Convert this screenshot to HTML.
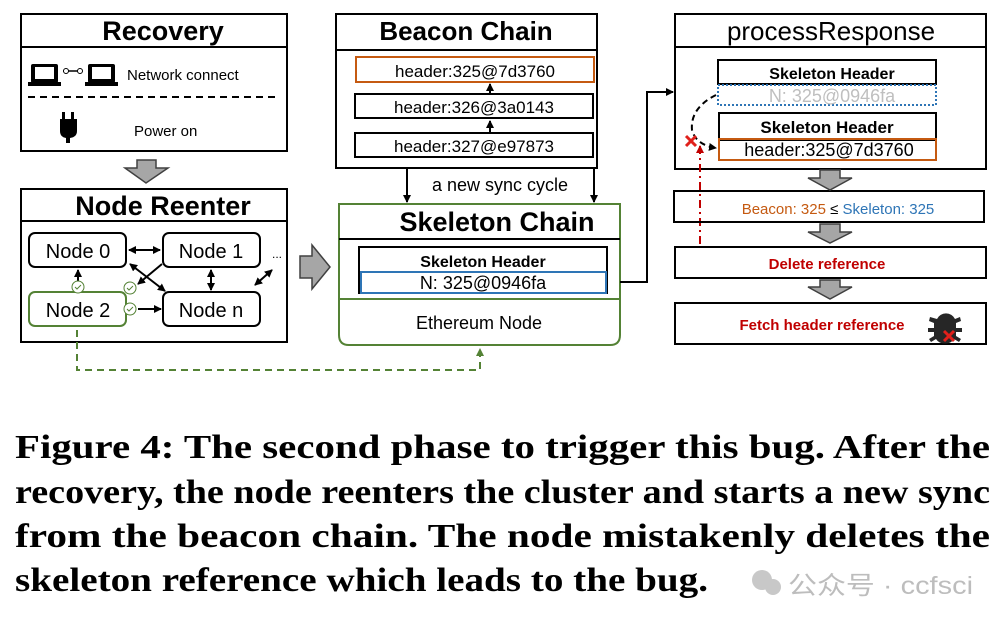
<!DOCTYPE html>
<html><head><meta charset="utf-8"><style>
html,body{margin:0;padding:0;background:#fff;width:1004px;height:625px;overflow:hidden}
svg{display:block}
.s{font-family:"Liberation Sans",sans-serif}
</style></head><body>
<svg width="1004" height="625" viewBox="0 0 1004 625" xmlns="http://www.w3.org/2000/svg">
<defs>
<marker id="ah" markerWidth="8" markerHeight="8" refX="7" refY="4" orient="auto" markerUnits="userSpaceOnUse"><path d="M0,0 L8,4 L0,8 z" fill="#000"/></marker>
<marker id="ahs" markerWidth="8" markerHeight="8" refX="1" refY="4" orient="auto" markerUnits="userSpaceOnUse"><path d="M8,0 L0,4 L8,8 z" fill="#000"/></marker>
<marker id="ag" markerWidth="8" markerHeight="8" refX="7" refY="4" orient="auto" markerUnits="userSpaceOnUse"><path d="M0,0 L8,4 L0,8 z" fill="#548235"/></marker>
<marker id="ar" markerWidth="8" markerHeight="8" refX="7" refY="4" orient="auto" markerUnits="userSpaceOnUse"><path d="M0,0 L8,4 L0,8 z" fill="#c00000"/></marker>
</defs>
<g class="s" fill="none" stroke="#000" stroke-width="2">
<rect x="21" y="14" width="266" height="137"/>
<line x1="21" y1="47" x2="287" y2="47"/>
<line x1="28" y1="97" x2="278" y2="97" stroke-dasharray="7,5"/>
<rect x="21" y="189" width="266" height="153"/>
<line x1="21" y1="221" x2="287" y2="221"/>
<rect x="29" y="233" width="97" height="34" rx="6"/>
<rect x="163" y="233" width="97" height="34" rx="6"/>
<rect x="29" y="292" width="97" height="34" rx="6" stroke="#548235"/>
<rect x="163" y="292" width="97" height="34" rx="6"/>
<line x1="129" y1="250" x2="160" y2="250" marker-end="url(#ah)" marker-start="url(#ahs)"/>
<line x1="130" y1="264" x2="165" y2="291" marker-end="url(#ah)" marker-start="url(#ahs)"/>
<line x1="162" y1="264" x2="138" y2="284" marker-end="url(#ah)"/>
<line x1="211" y1="270" x2="211" y2="290" marker-end="url(#ah)" marker-start="url(#ahs)"/>
<line x1="255" y1="285" x2="272" y2="270" marker-end="url(#ah)" marker-start="url(#ahs)"/>
<line x1="78" y1="283" x2="78" y2="270" marker-end="url(#ah)"/>
<line x1="138" y1="309" x2="161" y2="309" marker-end="url(#ah)"/>
<rect x="336" y="14" width="261" height="154"/>
<line x1="336" y1="50" x2="597" y2="50"/>
<rect x="356" y="57" width="238" height="25" stroke="#c55a11"/>
<rect x="355" y="94" width="238" height="24"/>
<rect x="355" y="133" width="238" height="24"/>
<line x1="490" y1="93" x2="490" y2="84" marker-end="url(#ah)"/>
<line x1="490" y1="132" x2="490" y2="121" marker-end="url(#ah)"/>
<line x1="407" y1="169" x2="407" y2="202" marker-end="url(#ah)"/>
<line x1="594" y1="169" x2="594" y2="202" marker-end="url(#ah)"/>
<path d="M339,204 H620 V335 Q620,345 610,345 H349 Q339,345 339,335 Z" stroke="#548235"/>
<line x1="339" y1="239" x2="620" y2="239" stroke="#000"/>
<line x1="339" y1="299" x2="620" y2="299" stroke="#548235"/>
<rect x="359" y="247" width="248" height="46"/>
<rect x="361" y="272" width="245" height="21" stroke="#2e75b6"/>
<polyline points="620,282 647,282 647,92 673,92" marker-end="url(#ah)"/>
<rect x="675" y="14" width="311" height="155"/>
<line x1="675" y1="47" x2="986" y2="47"/>
<rect x="718" y="60" width="218" height="24"/>
<rect x="718" y="85" width="218" height="20" stroke="#2e75b6" stroke-dasharray="2,2"/>
<rect x="719" y="113" width="217" height="27"/>
<rect x="719" y="139" width="217" height="21" stroke="#c55a11"/>
<path d="M716,95 Q690,108 692,130 Q696,145 716,148" stroke-dasharray="6,4" marker-end="url(#ah)"/>
<line x1="700" y1="244" x2="700" y2="146" stroke="#c00000" stroke-dasharray="8,4,2,4" marker-end="url(#ar)"/>
<rect x="674" y="191" width="310" height="31"/>
<rect x="675" y="247" width="311" height="31"/>
<rect x="675" y="303" width="311" height="41"/>
<polyline points="77,330 77,370 480,370 480,349" stroke="#548235" stroke-dasharray="7,5" marker-end="url(#ag)"/>
</g>
<g fill="#a6a6a6" stroke="#404040" stroke-width="1.5">
<path d="M137,160 H156 V168 H168 L146,183 L125,168 H137 Z"/>
<path d="M300,256 H312 V245 L330,267 L312,289 V278 H300 Z"/>
<path d="M820,170 H840 V178 H852 L830,190 L808,178 H820 Z"/>
<path d="M820,224 H840 V232 H852 L830,243 L808,232 H820 Z"/>
<path d="M820,280 H840 V287 H852 L830,299 L808,287 H820 Z"/>
</g>
<g fill="#000">
<rect x="31" y="64" width="27" height="19" rx="2"/><rect x="35" y="67" width="19" height="12" fill="#fff"/><rect x="28" y="82" width="33" height="4"/>
<rect x="88" y="64" width="27" height="19" rx="2"/><rect x="92" y="67" width="19" height="12" fill="#fff"/><rect x="85" y="82" width="33" height="4"/>
<line x1="63" y1="71" x2="82" y2="71" stroke="#000" stroke-width="1.5"/>
<circle cx="66" cy="71" r="2.5" fill="#fff" stroke="#000"/><circle cx="80" cy="71" r="2.5" fill="#fff" stroke="#000"/>
<rect x="62" y="112" width="3" height="8"/><rect x="71" y="112" width="3" height="8"/>
<path d="M60,119 H77 V131 Q77,137 70,138 V143 H66 V138 Q60,137 60,131 Z"/>
<path d="M937,319 a10,10 0 0 1 18,0 l5,-2 l1,4 l-5,2 v5 h6 v4 h-6 v4 l5,3 l-2,3 l-5,-3 a10,8 0 0 1 -18,0 l-5,3 l-2,-3 l5,-3 v-4 h-6 v-4 h6 v-5 l-5,-2 l1,-4 z" fill="#262626"/>
</g>
<g stroke="#e0201b" stroke-width="3"><line x1="944" y1="331" x2="954" y2="341"/><line x1="954" y1="331" x2="944" y2="341"/>
<line x1="686" y1="136" x2="696" y2="146"/><line x1="696" y1="136" x2="686" y2="146"/></g>
<g fill="#fff" stroke="#548235" stroke-width="1">
<circle cx="78" cy="287" r="6"/><circle cx="130" cy="288" r="6"/><circle cx="130" cy="309" r="6"/>
</g>
<g fill="none" stroke="#548235" stroke-width="1"><path d="M75,287 l2,2 l4,-4"/><path d="M127,288 l2,2 l4,-4"/><path d="M127,309 l2,2 l4,-4"/></g>
<g class="s" text-anchor="middle" fill="#000">
<text x="163" y="40" font-size="27" font-weight="bold">Recovery</text>
<text x="127" y="80" font-size="15" text-anchor="start">Network connect</text>
<text x="134" y="136" font-size="15" text-anchor="start">Power on</text>
<text x="163" y="215" font-size="27" font-weight="bold">Node Reenter</text>
<text x="78" y="258" font-size="20">Node 0</text>
<text x="211" y="258" font-size="20">Node 1</text>
<text x="78" y="317" font-size="20">Node 2</text>
<text x="211" y="317" font-size="20">Node n</text>
<text x="277" y="258" font-size="12">...</text>
<text x="466" y="40" font-size="26" font-weight="bold">Beacon Chain</text>
<text x="475" y="77" font-size="17">header:325@7d3760</text>
<text x="474" y="113" font-size="17">header:326@3a0143</text>
<text x="474" y="152" font-size="17">header:327@e97873</text>
<text x="500" y="191" font-size="18">a new sync cycle</text>
<text x="497" y="231" font-size="27" font-weight="bold">Skeleton Chain</text>
<text x="483" y="267" font-size="16" font-weight="bold">Skeleton Header</text>
<text x="483" y="289" font-size="18">N: 325@0946fa</text>
<text x="479" y="329" font-size="18">Ethereum Node</text>
<text x="831" y="40" font-size="26">processResponse</text>
<text x="832" y="79" font-size="16" font-weight="bold">Skeleton Header</text>
<text x="832" y="102" font-size="18" fill="#bfbfbf">N: 325@0946fa</text>
<text x="827" y="133" font-size="17" font-weight="bold">Skeleton Header</text>
<text x="829" y="156" font-size="18">header:325@7d3760</text>
<text x="838" y="214" font-size="15"><tspan fill="#c55a11">Beacon: 325</tspan> ≤ <tspan fill="#2e75b6">Skeleton: 325</tspan></text>
<text x="827" y="269" font-size="15" font-weight="bold" fill="#c00000">Delete reference</text>
<text x="822" y="330" font-size="15" font-weight="bold" fill="#c00000">Fetch header reference</text>
</g>
<g font-family="Liberation Serif,serif" font-weight="bold" font-size="34" fill="#000">
<text x="15" y="458" textLength="975" lengthAdjust="spacingAndGlyphs">Figure 4:  The second phase to trigger this bug. After the</text>
<text x="15" y="503" textLength="975" lengthAdjust="spacingAndGlyphs">recovery, the node reenters the cluster and starts a new sync</text>
<text x="15" y="547" textLength="975" lengthAdjust="spacingAndGlyphs">from the beacon chain. The node mistakenly deletes the</text>
<text x="15" y="591" textLength="693" lengthAdjust="spacingAndGlyphs">skeleton reference which leads to the bug.</text>
</g>
<circle cx="762" cy="580" r="10" fill="#c8c8c8"/><circle cx="773" cy="587" r="8" fill="#c8c8c8"/>
<text x="788" y="594" font-family="Liberation Sans,'Noto Sans CJK SC',sans-serif" font-size="25" fill="#bdbdbd" textLength="185" lengthAdjust="spacingAndGlyphs">公众号 · ccfsci</text>
</svg>
</body></html>
